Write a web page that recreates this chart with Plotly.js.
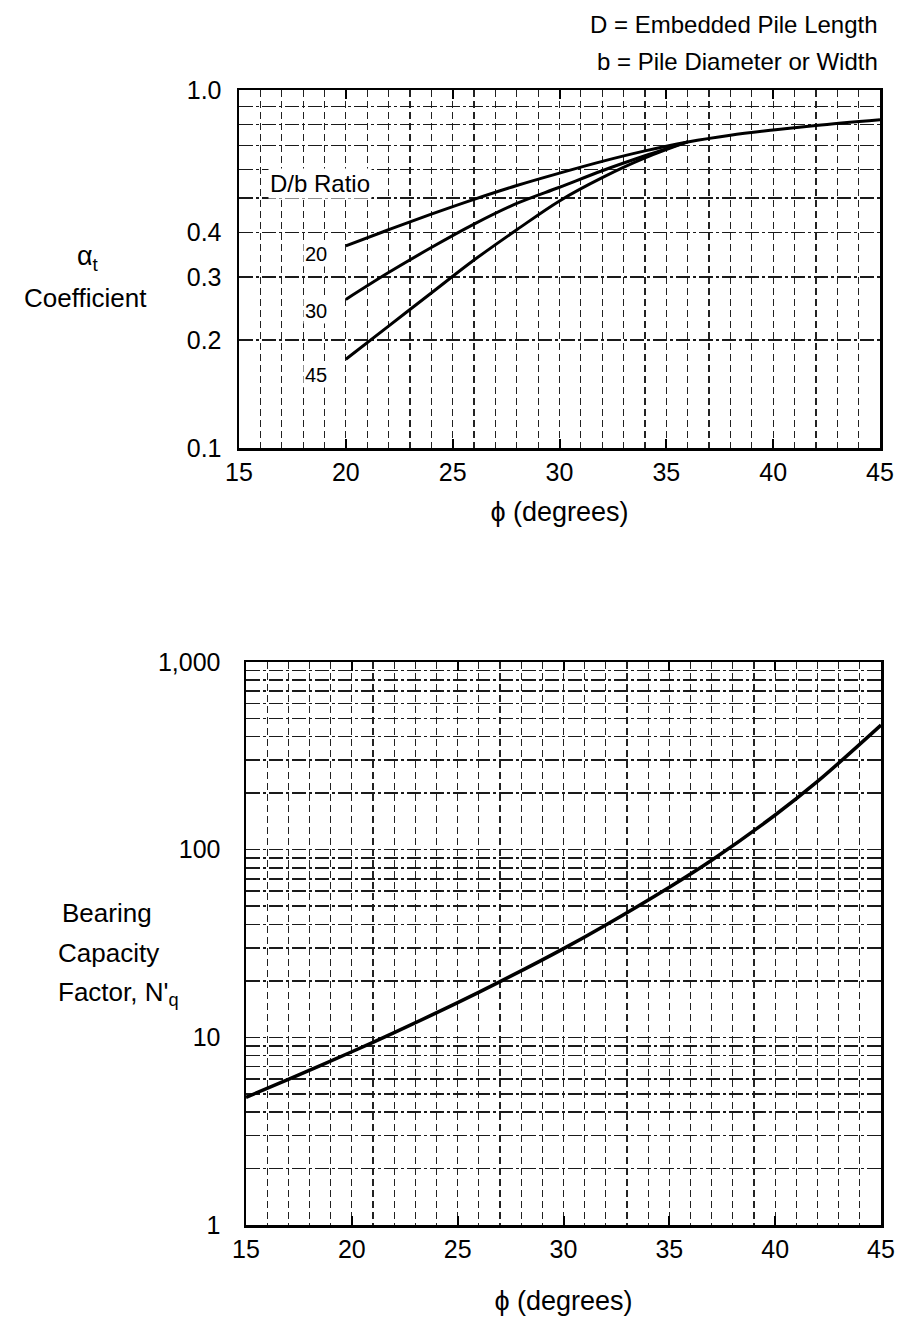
<!DOCTYPE html>
<html>
<head>
<meta charset="utf-8">
<script src="https://cdn.plot.ly/plotly-3.0.1.min.js"></script>
<style>html,body{margin:0;padding:0;background:#fff;}#chart{width:909px;height:1333px;}</style>
</head>
<body>
<div id="chart"></div>
<script>
// ---- Top chart data: alpha_t coefficient vs phi for D/b ratios ----
const phiTop = [20, 22, 24, 26, 28, 30, 32, 34, 36, 38, 40, 42, 45];
const alphaDb20 = [0.367, 0.407, 0.45, 0.495, 0.541, 0.586, 0.632, 0.676, 0.716, 0.748, 0.773, 0.796, 0.826];
const alphaDb30 = [0.26, 0.309, 0.363, 0.422, 0.482, 0.535, 0.595, 0.655, 0.716];
const alphaDb45 = [0.177, 0.219, 0.271, 0.335, 0.407, 0.49, 0.569, 0.646, 0.716];
const dbLabels = ["20", "30", "45"];

// ---- Bottom chart data: bearing capacity factor N'q vs phi ----
const phiBot = [15, 17, 20, 22, 25, 27, 30, 32, 35, 37, 40, 42, 45];
const nq = [4.79, 5.97, 8.38, 10.6, 15.3, 19.8, 29.7, 39.7, 63.1, 87.9, 153, 231, 461];

// ---- tick labels ----
const xTickVals = [15, 20, 25, 30, 35, 40, 45];
const xTickText = ["15", "20", "25", "30", "35", "40", "45"];
const topYGrid = [0.1, 0.2, 0.3, 0.4, 0.5, 0.6, 0.7, 0.8, 0.9, 1.0];
const topYText = ["0.1", "0.2", "0.3", "0.4", "", "", "", "", "", "1.0"];
const botYGrid = [1,2,3,4,5,6,7,8,9,10,20,30,40,50,60,70,80,90,100,200,300,400,500,600,700,800,900,1000];
const botYLabels = {1: "1", 10: "10", 100: "100", 1000: "1,000"};
const botYText = botYGrid.map(v => botYLabels[v] || "");

const W = 909, H = 1333;
const px = x => x / W;
const py = y => 1 - y / H;
const FONT = "Liberation Sans, Arial, Helvetica, sans-serif";

const traces = [
  {x: phiTop, y: alphaDb20, xaxis: "x", yaxis: "y", mode: "lines", line: {color: "#000", width: 3, shape: "spline", smoothing: 1}, hoverinfo: "skip"},
  {x: phiTop.slice(0, alphaDb30.length), y: alphaDb30, xaxis: "x", yaxis: "y", mode: "lines", line: {color: "#000", width: 3, shape: "spline", smoothing: 1}, hoverinfo: "skip"},
  {x: phiTop.slice(0, alphaDb45.length), y: alphaDb45, xaxis: "x", yaxis: "y", mode: "lines", line: {color: "#000", width: 3, shape: "spline", smoothing: 1}, hoverinfo: "skip"},
  {x: phiBot, y: nq, xaxis: "x2", yaxis: "y2", mode: "lines", line: {color: "#000", width: 3.5, shape: "spline", smoothing: 1}, hoverinfo: "skip"}
];

const hGrid = {gridcolor: "#1a1a1a", gridwidth: 1.6, griddash: "14px,3px,3px,3px"};
function xAxis(dom, anchor) {
  return {
    domain: dom, anchor: anchor, range: [15, 45], fixedrange: true,
    tickmode: "array", tickvals: xTickVals, ticktext: xTickText,
    ticks: "inside", ticklen: 9, tickwidth: 2, tickcolor: "#000",
    showgrid: true, gridcolor: "#222", gridwidth: 1.3, griddash: "7px,4px",
    minor: {dtick: 1, tick0: 15, showgrid: true, gridcolor: "#222", gridwidth: 1.2, griddash: "7px,4px", ticks: ""},
    showline: true, linecolor: "#000", linewidth: 2.5, mirror: "ticks",
    zeroline: false,
    tickfont: {family: FONT, size: 25, color: "#000"}
  };
}
function yAxis(dom, anchor, range, vals, text, standoff) {
  return Object.assign({
    domain: dom, anchor: anchor, type: "log", range: range, fixedrange: true,
    tickmode: "array", tickvals: vals, ticktext: text, ticks: "",
    showgrid: true, showline: true, linecolor: "#000", linewidth: 2.5, mirror: true,
    zeroline: false, ticklabelstandoff: standoff,
    tickfont: {family: FONT, size: 25, color: "#000"}
  }, hGrid);
}

const layout = {
  width: W, height: H,
  margin: {l: 0, r: 0, t: 0, b: 0},
  paper_bgcolor: "#fff", plot_bgcolor: "#fff",
  showlegend: false,
  font: {family: FONT, size: 25, color: "#000"},
  xaxis: Object.assign(xAxis([px(239), px(880)], "y"), {
    title: {text: "\u03d5 (degrees)", font: {family: FONT, size: 27, color: "#000"}, standoff: 18}
  }),
  yaxis: yAxis([py(448), py(90)], "x", [-1, 0], topYGrid, topYText, 10),
  xaxis2: Object.assign(xAxis([px(246), px(881)], "y2"), {
    title: {text: "\u03d5 (degrees)", font: {family: FONT, size: 27, color: "#000"}, standoff: 30}
  }),
  yaxis2: yAxis([py(1225), py(662)], "x2", [0, 3], botYGrid, botYText, 18),
  annotations: [
    {xref: "paper", yref: "paper", x: px(880), y: py(25), xanchor: "right", yanchor: "middle", showarrow: false,
     text: "D = Embedded Pile Length", font: {family: FONT, size: 24}},
    {xref: "paper", yref: "paper", x: px(880), y: py(62), xanchor: "right", yanchor: "middle", showarrow: false,
     text: "b = Pile Diameter or Width", font: {family: FONT, size: 24}},
    {xref: "paper", yref: "paper", x: px(88), y: py(258), xanchor: "center", yanchor: "middle", showarrow: false,
     text: "\u03b1<sub>t</sub>", font: {family: FONT, size: 27}},
    {xref: "paper", yref: "paper", x: px(85), y: py(298), xanchor: "center", yanchor: "middle", showarrow: false,
     text: "Coefficient", font: {family: FONT, size: 26}},
    {xref: "paper", yref: "paper", x: px(107), y: py(913), xanchor: "center", yanchor: "middle", showarrow: false,
     text: "Bearing", font: {family: FONT, size: 26}},
    {xref: "paper", yref: "paper", x: px(108), y: py(953), xanchor: "center", yanchor: "middle", showarrow: false,
     text: "Capacity", font: {family: FONT, size: 26}},
    {xref: "paper", yref: "paper", x: px(118), y: py(993), xanchor: "center", yanchor: "middle", showarrow: false,
     text: "Factor, N'<sub>q</sub>", font: {family: FONT, size: 26}},
    {xref: "x", yref: "y", x: 18.8, y: Math.log10(0.548), xanchor: "center", yanchor: "middle", showarrow: false,
     text: "D/b Ratio", bgcolor: "#fff", font: {family: FONT, size: 24}},
    {xref: "x", yref: "y", x: 18.6, y: Math.log10(0.348), xanchor: "center", yanchor: "middle", showarrow: false,
     text: dbLabels[0], bgcolor: "#fff", font: {family: FONT, size: 20}},
    {xref: "x", yref: "y", x: 18.6, y: Math.log10(0.241), xanchor: "center", yanchor: "middle", showarrow: false,
     text: dbLabels[1], bgcolor: "#fff", font: {family: FONT, size: 20}},
    {xref: "x", yref: "y", x: 18.6, y: Math.log10(0.160), xanchor: "center", yanchor: "middle", showarrow: false,
     text: dbLabels[2], bgcolor: "#fff", font: {family: FONT, size: 20}}
  ]
};

Plotly.newPlot("chart", traces, layout, {staticPlot: true, displayModeBar: false});
</script>
</body>
</html>
